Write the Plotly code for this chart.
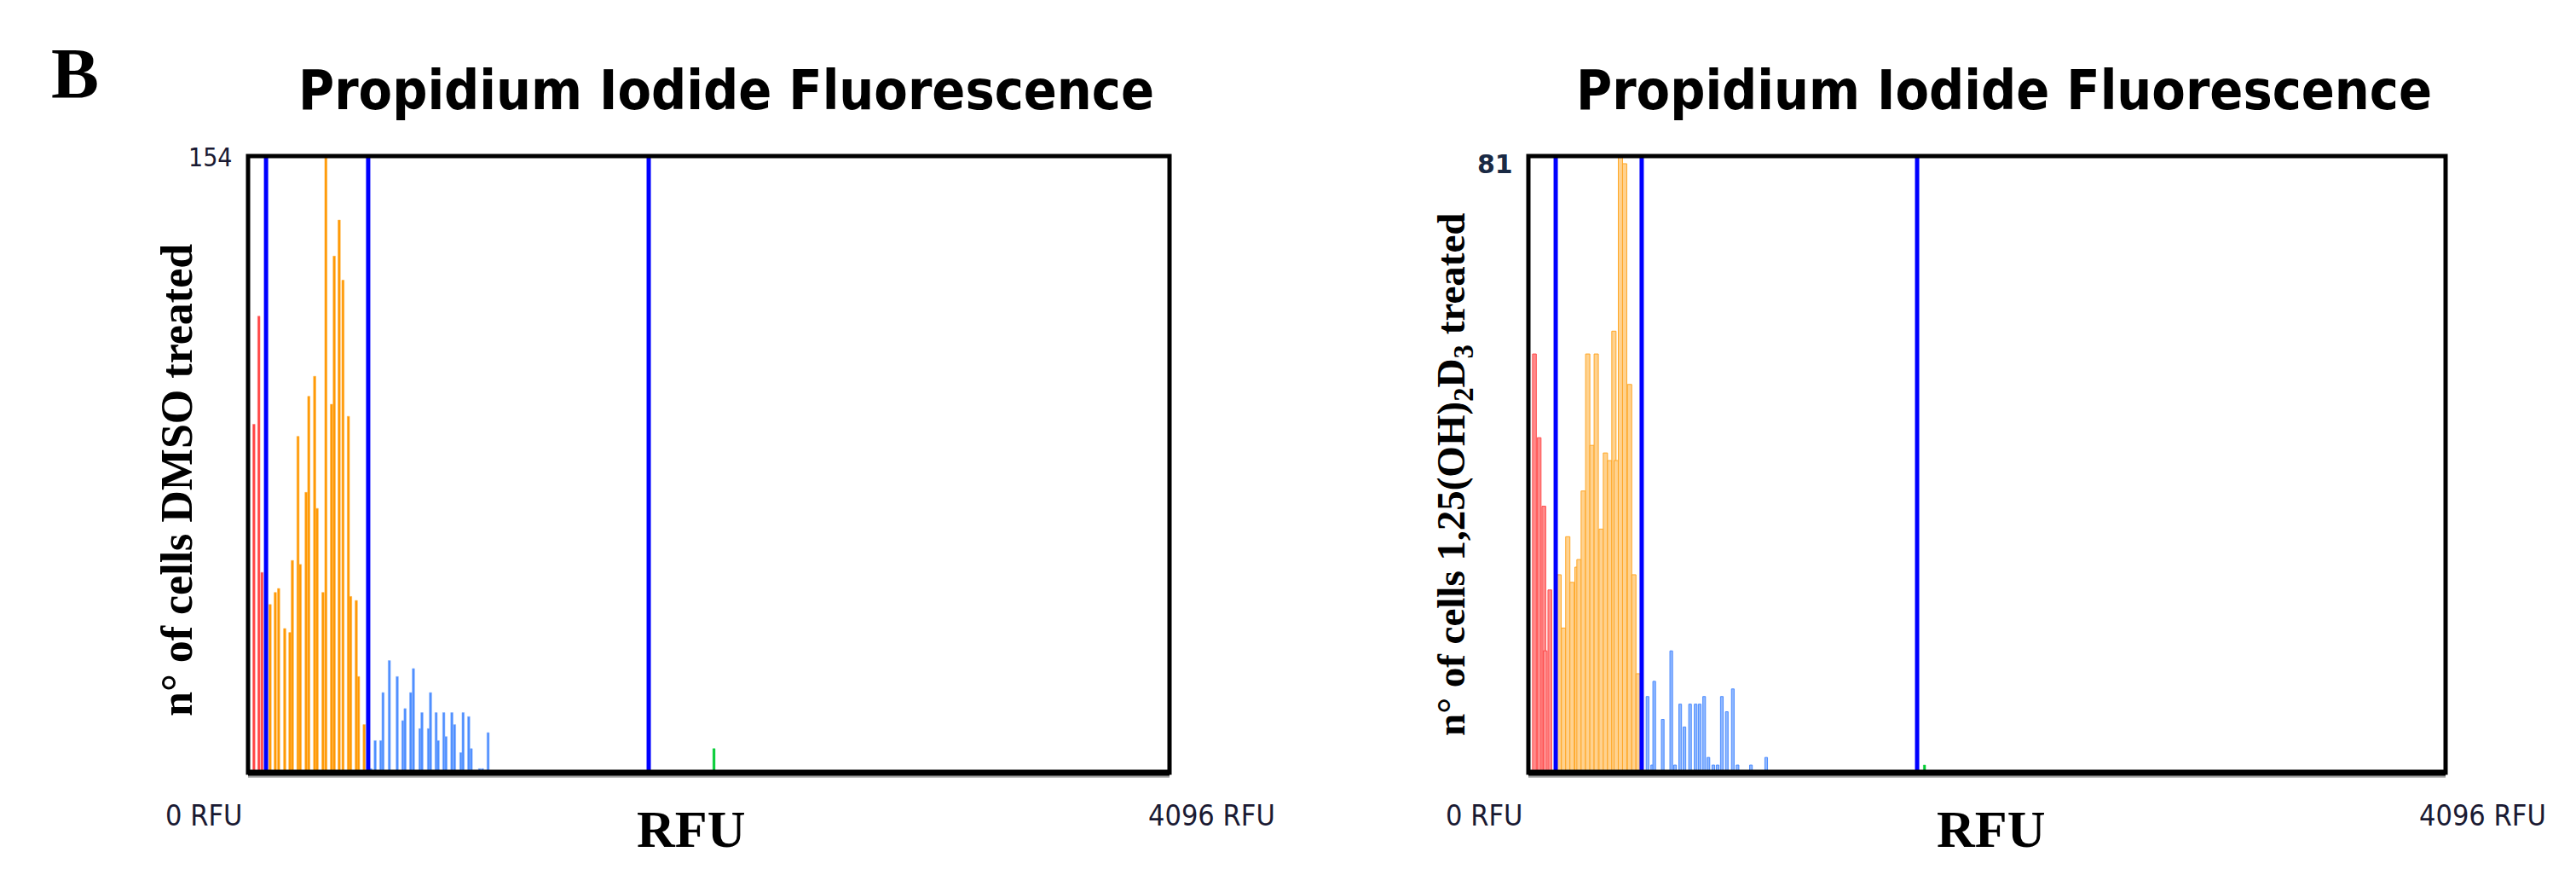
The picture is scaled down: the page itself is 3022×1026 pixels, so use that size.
import plotly.graph_objects as go

# ---------------- data ----------------
# Left panel: DMSO treated
dmso_red_rfu = [26, 48, 62]
dmso_red_count = [87, 114, 50]
dmso_orange_rfu = [98, 121, 136, 163, 186, 197, 222, 232, 258, 270, 296, 307,
                   333, 346, 371, 383, 405, 422, 446, 456, 481, 491, 516]
dmso_orange_count = [42, 45, 46, 36, 35, 53, 84, 52, 70, 94, 99, 66,
                     45, 154, 92, 129, 138, 123, 89, 44, 43, 24, 12]
dmso_blue_rfu = [546, 565, 590, 600, 628, 663, 688, 698, 723, 735, 764, 773, 802,
                 811, 836, 845, 870, 880, 906, 918, 946, 956, 981, 992, 1029, 1042, 1067]
dmso_blue_count = [1, 8, 8, 20, 28, 24, 13, 16, 20, 26, 11, 15, 11,
                   20, 15, 8, 15, 9, 15, 12, 5, 15, 14, 6, 1, 1, 10]
dmso_green_rfu = [2071]
dmso_green_count = [6]
dmso_gates = [80, 534, 1781]
dmso_ymax = 154

# Right panel: 1,25(OH)2D3 treated
vd_red_rfu = [27, 48, 69, 75, 96]
vd_red_count = [55, 44, 35, 16, 24]
vd_orange_rfu = [137, 157, 176, 195, 217, 226, 245, 265, 284, 303,
                 325, 344, 363, 382, 392, 411, 430, 452, 471, 490]
vd_orange_count = [26, 19, 31, 25, 27, 28, 37, 55, 43, 55,
                   32, 42, 41, 58, 41, 81, 80, 51, 26, 13]
vd_blue_rfu = [532, 553, 562, 600, 638, 655, 678, 697, 722, 747, 765,
               785, 804, 826, 845, 864, 886, 913, 934, 994, 1062]
vd_blue_count = [10, 1, 12, 7, 16, 1, 9, 6, 9, 9, 9,
                 10, 2, 1, 1, 10, 8, 11, 1, 1, 2]
vd_green_rfu = [1769]
vd_green_count = [1]
vd_gates = [122, 506, 1736]
vd_ymax = 81

x_max = 4096
title_text = "Propidium Iodide Fluorescence"
x_tick_labels = ["0 RFU", "4096 RFU"]
x_title = "RFU"
y_title_left = "n° of cells DMSO treated"
y_title_right = "n° of cells 1,25(OH)<sub>2</sub>D<sub>3</sub> treated"

# ---------------- layout geometry ----------------
W, H = 3022, 1026
OFF = 8  # page body margin in the browser


def px(x):
    return (x - OFF) / W


def py(y):
    return 1 - (y - OFF) / H


left_dom = [px(291), px(1372)]
right_dom = [px(1793), px(2869)]
y_dom = [py(906), py(183)]

fig = go.Figure()


def add_bars(rfu, cnt, xa, ya, fill, line, width, lw):
    fig.add_trace(go.Bar(x=rfu, y=cnt, xaxis=xa, yaxis=ya, width=width,
                         marker=dict(color=fill, line=dict(color=line, width=lw)),
                         showlegend=False, hoverinfo="x+y"))


# left panel bars
add_bars(dmso_red_rfu, dmso_red_count, "x", "y", "#ff4040", "#ff7070", 10, 0.6)
add_bars(dmso_orange_rfu, dmso_orange_count, "x", "y", "#ff9800", "#ffb040", 10, 0.6)
add_bars(dmso_blue_rfu, dmso_blue_count, "x", "y", "#4a8cff", "#86b2ff", 10, 0.6)
add_bars(dmso_green_rfu, dmso_green_count, "x", "y", "#00cc33", "#00cc33", 10, 0.5)

# right panel bars
add_bars(vd_red_rfu, vd_red_count, "x2", "y2", "#ff8a8a", "#ff4d4d", 17, 1)
add_bars(vd_orange_rfu, vd_orange_count, "x2", "y2", "#ffd28f", "#ffa726", 19, 1)
add_bars(vd_blue_rfu, vd_blue_count, "x2", "y2", "#8fb8ff", "#4d8cff", 12, 1)
add_bars(vd_green_rfu, vd_green_count, "x2", "y2", "#00cc33", "#00cc33", 10, 0.5)

axis_common = dict(showgrid=False, zeroline=False, showticklabels=False,
                   ticks="", showline=False, fixedrange=True)
fig.update_layout(
    width=W, height=H,
    margin=dict(l=0, r=0, t=0, b=0),
    paper_bgcolor="white", plot_bgcolor="white",
    barmode="overlay",
    xaxis=dict(domain=left_dom, range=[0, x_max], anchor="y", **axis_common),
    yaxis=dict(domain=y_dom, range=[0, dmso_ymax], anchor="x", **axis_common),
    xaxis2=dict(domain=right_dom, range=[0, x_max], anchor="y2", **axis_common),
    yaxis2=dict(domain=y_dom, range=[0, vd_ymax], anchor="x2", **axis_common),
)

shapes = []
for xa, ya, gates in (("x", "y", dmso_gates), ("x2", "y2", vd_gates)):
    for g in gates:
        shapes.append(dict(type="line", xref=xa, yref=f"{ya} domain", x0=g, x1=g,
                           y0=0, y1=1, line=dict(color="#0000ff", width=5)))
    shapes.append(dict(type="rect", xref=f"{xa} domain", yref=f"{ya} domain",
                       x0=0, x1=1, y0=0, y1=1, line=dict(color="black", width=5)))
    shapes.append(dict(type="line", xref=f"{xa} domain", yref=f"{ya} domain",
                       x0=0, x1=1, y0=-0.006, y1=-0.006,
                       line=dict(color="#9a9a9a", width=3)))
    shapes.append(dict(type="line", xref=f"{xa} domain", yref=f"{ya} domain",
                       x0=0, x1=1, y0=0, y1=0, line=dict(color="black", width=7)))
fig.update_layout(shapes=shapes)

ann = []


def text(x, y, s, size, family, color="black", angle=0, xanchor="center"):
    ann.append(dict(x=px(x), y=py(y), xref="paper", yref="paper", text=s,
                    showarrow=False, textangle=angle, xanchor=xanchor, yanchor="middle",
                    font=dict(size=size, family=family, color=color)))


serif = "Liberation Serif, Times New Roman, serif"
tah = "DejaVu Sans Condensed, DejaVu Sans, sans-serif"
dv = "DejaVu Sans, sans-serif"

text(88, 87, "<b>B</b>", 84, serif)
text(852, 106, f"<b>{title_text}</b>", 64, tah)
text(2351, 106, f"<b>{title_text}</b>", 64, tah)

text(207, 563, f"<b>{y_title_left}</b>", 52, serif, angle=-90)
text(1705, 557, f"<b>{y_title_right}</b>", 47, serif, angle=-90)

text(247, 184, str(dmso_ymax), 30, tah, color="#1a1a33")
text(1754, 192, f"<b>{vd_ymax}</b>", 30, dv, color="#1a2a44")

for cx_left, cx_right, cx_title in ((239, 1421, 811), (1741, 2912, 2335)):
    text(cx_left, 956, x_tick_labels[0], 34, tah, color="#1a1a33")
    text(cx_right, 956, x_tick_labels[1], 34, tah, color="#1a1a33")
    text(cx_title, 972, f"<b>{x_title}</b>", 62, serif)

fig.update_layout(annotations=ann)

fig.write_html("out.html")
